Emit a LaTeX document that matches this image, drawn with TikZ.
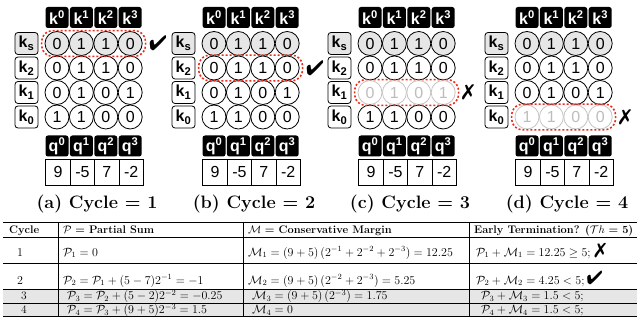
\documentclass[tikz,border=0pt]{standalone}
\usepackage{fontspec}
\usepackage{amsmath}
\usepackage{pifont}
\usetikzlibrary{fit}
\newfontfamily\pan{Liberation Sans}
\definecolor{redd}{HTML}{EE2A1B}
\definecolor{lg}{HTML}{E6E6E6}
\definecolor{fadeline}{HTML}{C4C4C4}
\definecolor{fadetext}{HTML}{BDBDBD}
\newcommand\cmark{\ding{52}}
\newcommand\xmark{\ding{55}}
\tikzset{
  hdr/.style={fill=black, rounded corners=2.5pt, minimum width=23pt, minimum height=21pt, inner sep=0pt, text=white, font=\pan\bfseries\fontsize{16}{16}\selectfont},
  lab/.style={draw=black, line width=0.8pt, rounded corners=3pt, minimum width=23pt, minimum height=22pt, inner sep=0pt, font=\pan\bfseries\fontsize{16}{16}\selectfont},
  bit/.style={circle, line width=0.8pt, minimum size=24pt, inner sep=0pt, font=\pan\fontsize{16}{16}\selectfont},
  valbox/.style={draw=black, line width=0.8pt, minimum width=24.4pt, minimum height=26pt, inner sep=0pt, font=\pan\fontsize{16}{16}\selectfont},
  hl/.style={draw=redd, line width=1.6pt, dash pattern=on 2pt off 2pt, rounded corners=11pt, inner xsep=3pt, inner ysep=0.5pt},
  markstyle/.style={inner sep=1pt, font=\fontsize{21}{21}\selectfont},
  captxt/.style={inner sep=0pt, font=\bfseries\fontsize{18}{18}\selectfont},
  tabhead/.style={anchor=base west, inner sep=0pt, font=\fontsize{11}{13}\selectfont},
  tabtxt/.style={anchor=base west, inner sep=0pt, font=\fontsize{12}{13}\selectfont},
  tabsmall/.style={anchor=base west, inner sep=0pt, font=\fontsize{11.5}{13}\selectfont},
  rulethick/.style={line width=1pt},
  rulethin/.style={line width=0.7pt}
}
\newcommand\mypanel[6]{%
\begin{scope}[xshift=#2]
\foreach \c in {0,1,2,3}{
  \node[hdr] (#1-k\c) at ({57+24.4*\c},17.5) {k\textsuperscript{\c}};
  \node[hdr] (#1-q\c) at ({57+24.4*\c},146) {q\textsuperscript{\c}};
}
\foreach \v [count=\c from 0] in {9,-5,7,-2}{
  \node[valbox] (#1-v\c) at ({58+24.4*\c},172) {\v};
}
\foreach \r/\y/\i/\bits in {s/43.5/1/{0,1,1,0},2/68/2/{0,1,1,0},1/92.5/3/{0,1,0,1},0/117/4/{1,1,0,0}}{
  \ifnum\i=1 \def\bfill{lg}\else\def\bfill{white}\fi
  \ifnum\i=#4 \def\dcol{fadeline}\def\tcol{fadetext}\else\def\dcol{black}\def\tcol{black}\fi
  \node[lab, fill=\bfill] (#1-l\r) at (26.5,\y) {k\textsubscript{\r}};
  \foreach \v [count=\c from 0] in \bits {
    \node[bit, fill=\bfill, draw=\dcol, text=\tcol] (#1-\r-\c) at ({57+24.4*\c},\y) {\v};
  }
}
\node[hl, fit=(#1-#3-0)(#1-#3-3)] (#1-hl) {};
\node[markstyle, anchor=west] (#1-mk) at ([xshift=1.5pt]#1-hl.east) {#5};
\node[captxt] (#1-cap) at (97,204) {#6};
\end{scope}}
\begin{document}
\begin{tikzpicture}[x=1pt,y=-1pt]
\useasboundingbox (0,0) rectangle (639,323);
\mypanel{a}{0}{s}{0}{\cmark}{(a) Cycle = 1}
\mypanel{b}{157}{2}{0}{\cmark}{(b) Cycle = 2}
\mypanel{c}{313}{1}{3}{\xmark}{(c) Cycle = 3}
\mypanel{d}{470}{0}{4}{\xmark}{(d) Cycle = 4}
% table
\fill[lg] (3,289.5) rectangle (637,316.5);
\draw[rulethick] (3,222) -- (637,222);
\draw[rulethin] (3,237.5) -- (637,237.5);
\draw[rulethin] (3,263) -- (637,263);
\draw[rulethin] (3,289.5) -- (637,289.5);
\draw[rulethin] (3,303) -- (637,303);
\draw[rulethick] (3,316.5) -- (637,316.5);
\foreach \x in {58,243,469} \draw[rulethin] (\x,222) -- (\x,316.5);
% header
\node[tabhead] (h1) at (9,233.5) {\textbf{Cycle}};
\node[tabhead] (h2) at (63,233.5) {$\mathcal{P}$ \textbf{= Partial Sum}};
\node[tabhead] (h3) at (248,233.5) {$\mathcal{M}$ \textbf{= Conservative Margin}};
\node[tabhead] (h4) at (474,233.5) {\textbf{Early Termination? (}$\mathcal{T}h$ \textbf{= 5)}};
% row 1
\node[tabtxt] (r1a) at (17,256) {1};
\node[tabtxt] (r1b) at (63,256) {$\mathcal{P}_1 = 0$};
\node[tabtxt] (r1c) at (248,256) {$\mathcal{M}_1 = (9+5)\,(2^{-1}+2^{-2}+2^{-3}) = 12.25$};
\node[tabtxt] (r1d) at (476,256) {$\mathcal{P}_1+\mathcal{M}_1 = 12.25 \geq 5;$ {\fontsize{20}{20}\selectfont\xmark}};
% row 2
\node[tabtxt] (r2a) at (17,284) {2};
\node[tabtxt] (r2b) at (63,284) {$\mathcal{P}_2 = \mathcal{P}_1 + (5-7)2^{-1} = -1$};
\node[tabtxt] (r2c) at (248,284) {$\mathcal{M}_2 = (9+5)\,(2^{-2}+2^{-3}) = 5.25$};
\node[tabtxt] (r2d) at (476,284) {$\mathcal{P}_2+\mathcal{M}_2 = 4.25 < 5;$\,{\fontsize{19}{19}\selectfont\cmark}};
% row 3
\node[tabsmall] (r3a) at (21,299.5) {3};
\node[tabsmall] (r3b) at (67,299.5) {$\mathcal{P}_3 = \mathcal{P}_2 + (5-2)2^{-2} = -0.25$};
\node[tabsmall] (r3c) at (252,299.5) {$\mathcal{M}_3 = (9+5)\,(2^{-3}) = 1.75$};
\node[tabsmall] (r3d) at (481,299.5) {$\mathcal{P}_3+\mathcal{M}_3 = 1.5 < 5;$};
% row 4
\node[tabsmall] (r4a) at (21,313.5) {4};
\node[tabsmall] (r4b) at (67,313.5) {$\mathcal{P}_4 = \mathcal{P}_3 + (9+5)2^{-3} = 1.5$};
\node[tabsmall] (r4c) at (252,313.5) {$\mathcal{M}_4 = 0$};
\node[tabsmall] (r4d) at (481,313.5) {$\mathcal{P}_4+\mathcal{M}_4 = 1.5 < 5;$};
\end{tikzpicture}
\end{document}
